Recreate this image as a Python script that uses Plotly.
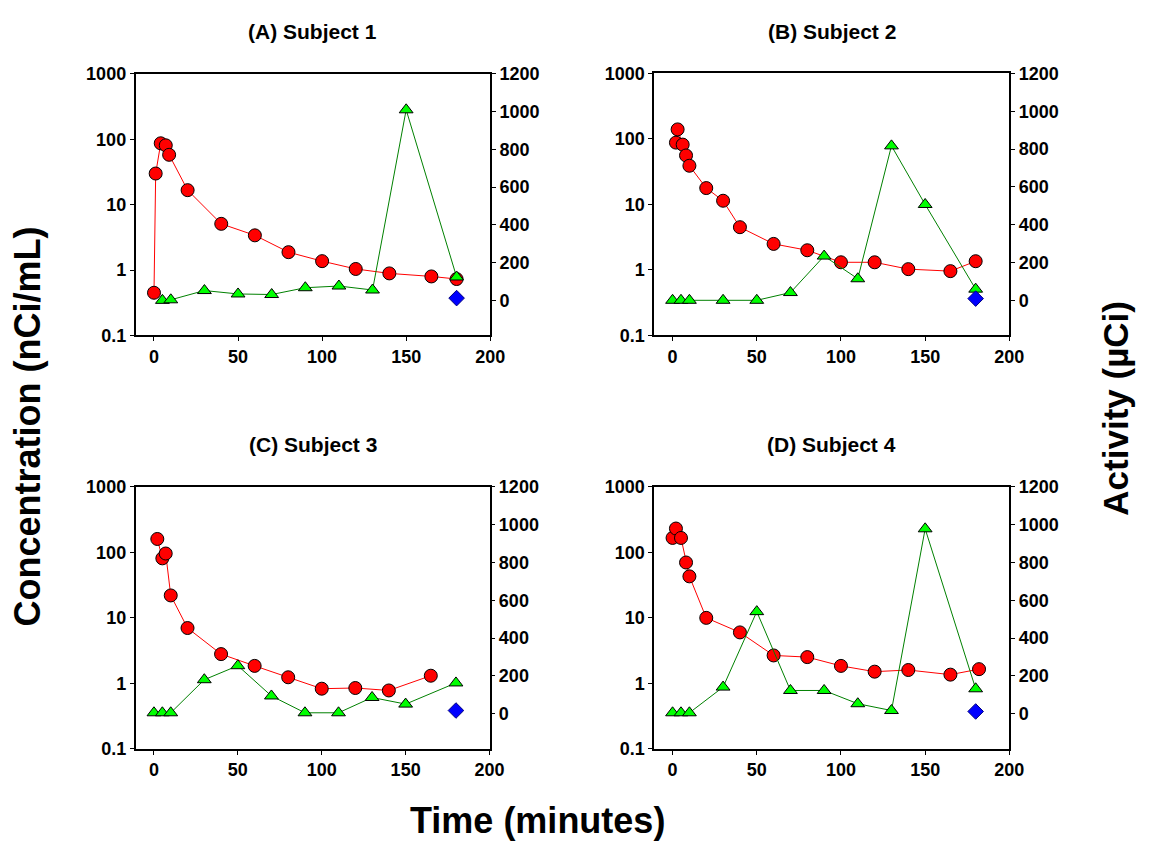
import plotly.graph_objects as go

# ---- Data ----
# Concentration (nCi/mL), left log axis
tA_conc = [0, 1, 4, 7, 9, 20, 40, 60, 80, 100, 120, 140, 165, 180]
cA_conc = [0.45, 30, 87, 81, 58, 16.7, 5.1, 3.4, 1.88, 1.37, 1.04, 0.89, 0.80, 0.73]
tB_conc = [2, 3, 6, 8, 10, 20, 30, 40, 60, 80, 100, 120, 140, 165, 180]
cB_conc = [88, 140, 82, 56, 39, 17.8, 11.4, 4.5, 2.5, 2.0, 1.31, 1.31, 1.03, 0.96, 1.36]
tC_conc = [2, 5, 7, 10, 20, 40, 60, 80, 100, 120, 140, 165]
cC_conc = [160, 81, 96, 22, 7.0, 2.8, 1.85, 1.24, 0.83, 0.85, 0.78, 1.31]
tD_conc = [0, 2, 5, 8, 10, 20, 40, 60, 80, 100, 120, 140, 165, 182]
cD_conc = [166, 231, 166, 70, 43, 10, 6.0, 2.67, 2.52, 1.85, 1.51, 1.6, 1.36, 1.65]

# Activity (uCi), right linear axis
tA_act = [5, 10, 30, 50, 70, 90, 110, 130, 150, 180]
aA_act = [0, 3, 52, 34, 31, 67, 76, 55, 1010, 124]
tB_act = [0, 5, 10, 30, 50, 70, 90, 110, 130, 150, 180]
aB_act = [0, 0, 0, 0, 0, 41, 234, 114, 817, 507, 59]
tC_act = [0, 5, 10, 30, 50, 70, 90, 110, 130, 150, 180]
aC_act = [5, 5, 5, 180, 254, 94, 5, 5, 86, 51, 163]
tD_act = [0, 5, 10, 30, 50, 70, 90, 110, 130, 150, 180]
aD_act = [5, 5, 5, 141, 540, 123, 123, 53, 17, 978, 132]

# Single blue point (activity)
t_blue = [180, 180, 180, 180]
a_blue = [12, 9, 17, 12]

titles = ["(A) Subject 1", "(B) Subject 2", "(C) Subject 3", "(D) Subject 4"]
log_ticks = [0.1, 1, 10, 100, 1000]
log_ticktext = ["0.1", "1", "10", "100", "1000"]
act_ticks = [0, 200, 400, 600, 800, 1000, 1200]
x_ticks = [0, 50, 100, 150, 200]

conc_t = [tA_conc, tB_conc, tC_conc, tD_conc]
conc_v = [cA_conc, cB_conc, cC_conc, cD_conc]
act_t = [tA_act, tB_act, tC_act, tD_act]
act_v = [aA_act, aB_act, aC_act, aD_act]

W, H = 1149, 851
# panel pixel boxes (left, right, top, bottom)
boxes = [
    (137.3, 496.7, 65.5, 333.3),
    (662.7, 1022.7, 65.0, 333.3),
    (137.3, 496.0, 488.3, 756.7),
    (662.7, 1022.7, 488.3, 756.7),
]

FONT = "Liberation Sans, Arial, sans-serif"
fig = go.Figure()
layout = dict(
    width=W, height=H, margin=dict(l=0, r=0, t=0, b=0),
    paper_bgcolor="white", plot_bgcolor="white", showlegend=False,
    font=dict(family=FONT, color="black"),
)
annotations = []
tickfont = dict(family=FONT, size=18, color="black", weight="bold")

for i in range(4):
    l, r, t, b = boxes[i]
    xd = [l / W, r / W]
    yd = [1 - b / H, 1 - t / H]
    xn = i + 1
    yl = 2 * i + 1
    yr = 2 * i + 2
    xkey = "xaxis" if xn == 1 else f"xaxis{xn}"
    ylkey = "yaxis" if yl == 1 else f"yaxis{yl}"
    yrkey = f"yaxis{yr}"
    xref = "x" if xn == 1 else f"x{xn}"
    ylref = "y" if yl == 1 else f"y{yl}"
    yrref = f"y{yr}"

    layout[xkey] = dict(
        domain=xd, anchor=ylref, range=[-11, 200], tickvals=x_ticks,
        ticks="outside", ticklen=4, tickwidth=1, tickcolor="black",
        showline=True, linecolor="black", linewidth=1.5, mirror=True,
        showgrid=False, zeroline=False, tickfont=tickfont,
    )
    layout[ylkey] = dict(
        domain=yd, anchor=xref, type="log", range=[-1, 3],
        tickvals=log_ticks, ticktext=log_ticktext,
        ticks="outside", ticklen=4, tickwidth=1, tickcolor="black",
        showline=True, linecolor="black", linewidth=1.5, mirror=True,
        showgrid=False, zeroline=False, tickfont=tickfont,
    )
    layout[yrkey] = dict(
        domain=yd, anchor=xref, overlaying=ylref, side="right",
        range=[-186, 1200], tickvals=act_ticks,
        ticks="outside", ticklen=4, tickwidth=1, tickcolor="black",
        showline=True, linecolor="black", linewidth=1.5,
        showgrid=False, zeroline=False, tickfont=tickfont,
    )

    fig.add_trace(go.Scatter(
        x=conc_t[i], y=conc_v[i], xaxis=xref, yaxis=ylref,
        mode="lines+markers",
        line=dict(color="#ff0000", width=1),
        marker=dict(symbol="circle", size=13, color="#ff0000",
                    line=dict(color="black", width=1)),
    ))
    fig.add_trace(go.Scatter(
        x=act_t[i], y=act_v[i], xaxis=xref, yaxis=yrref,
        mode="lines+markers",
        line=dict(color="#008000", width=1),
        marker=dict(symbol="triangle-up", size=12, color="#00ff00",
                    line=dict(color="black", width=1)),
    ))
    fig.add_trace(go.Scatter(
        x=[t_blue[i]], y=[a_blue[i]], xaxis=xref, yaxis=yrref,
        mode="markers",
        marker=dict(symbol="diamond", size=12, color="#0000ff",
                    line=dict(color="#000080", width=1)),
    ))

    annotations.append(dict(
        text=titles[i], x=(l + r) / 2 / W, y=1 - (t - 43) / H,
        xref="paper", yref="paper", showarrow=False,
        xanchor="center", yanchor="middle",
        font=dict(family=FONT, size=21, color="black", weight="bold"),
    ))

annotations.append(dict(
    text="Concentration (nCi/mL)", x=28 / W, y=1 - 427 / H,
    xref="paper", yref="paper", showarrow=False, textangle=-90,
    xanchor="center", yanchor="middle",
    font=dict(family=FONT, size=36, color="black", weight="bold"),
))
annotations.append(dict(
    text="Activity (µCi)", x=1130 / W, y=1 - 408 / H,
    xref="paper", yref="paper", showarrow=False, textangle=-90,
    xanchor="center", yanchor="middle",
    font=dict(family=FONT, size=35, color="black", weight="bold"),
))
annotations.append(dict(
    text="Time (minutes)", x=545 / W, y=1 - 830 / H,
    xref="paper", yref="paper", showarrow=False,
    xanchor="center", yanchor="middle",
    font=dict(family=FONT, size=36, color="black", weight="bold"),
))
layout["annotations"] = annotations
fig.update_layout(**layout)
fig.write_html(
    "out.html",
    config={"displayModeBar": False},
    post_script="document.body.style.margin='0';document.body.style.overflow='hidden';",
)
